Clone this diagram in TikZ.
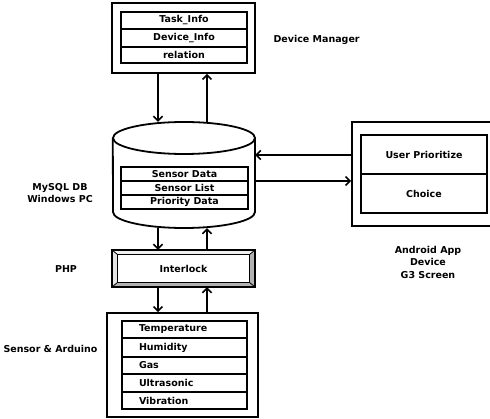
\documentclass[tikz,border=0pt]{standalone}
\usepackage{fontspec}
\setmainfont{DejaVu Sans}
\usetikzlibrary{arrows.meta,calc}
\begin{document}
\begin{tikzpicture}[x=1pt,y=-1pt,
  every node/.style={font=\bfseries\fontsize{9.5}{12.5}\selectfont},
  frame/.style={draw, line width=1.8pt, inner sep=0pt},
  cell/.style={draw, line width=1.5pt, inner sep=0pt, minimum width=126pt},
  sensor/.style={cell, minimum width=125pt, text width=91pt, inner xsep=17pt, align=left},
  arr/.style={line width=1.8pt, -{Straight Barb[length=4.5pt,width=9pt,line width=1.5pt]}},
  ln/.style={line width=1.8pt}]
\clip (0,0) rectangle (490,419);
\fill[white] (0,0) rectangle (490,419);

% columns of the vertical connectors, rows of the horizontal ones
\coordinate (xa) at (158,0);
\coordinate (xb) at (207,0);
\coordinate (ya) at (0,155);
\coordinate (yb) at (0,181);

% device manager
\node[frame, minimum width=143pt, minimum height=70pt] (dm) at (183.5,38) {};
\node[cell, minimum height=17pt] (task) at (184,20.5) {Task\_Info};
\node[cell, minimum height=18pt] (dev) at (184,38) {Device\_Info};
\node[cell, minimum height=16pt] (rel) at (184,55) {relation};
\node[anchor=west] (dml) at (270,40) {Device Manager};

% database cylinder
\node[minimum width=142pt, minimum height=106pt, inner sep=0pt] (db) at (184,175) {};
\draw[ln, fill=white] (184,138) ellipse [x radius=71, y radius=16];
\draw[ln] (db.west |- 0,138) -- (113,212) arc[start angle=180, end angle=0, x radius=71, y radius=16] -- (255,138);
\node[cell, minimum width=127pt, minimum height=14pt] (sdata) at (184.5,174) {Sensor Data};
\node[cell, minimum width=127pt, minimum height=14pt] (slist) at (184.5,188) {Sensor List};
\node[cell, minimum width=127pt, minimum height=14pt] (pdata) at (184.5,202) {Priority Data};
\node[align=center] (dbl) at (60,193) {MySQL DB\\Windows PC};

% android application
\node[frame, minimum width=150pt, minimum height=104pt] (app) at (427,174) {};
\node[cell, minimum height=39pt] (prio) at (424,154.5) {User Prioritize};
\node[cell, minimum height=39pt] (choice) at (424,193.5) {Choice};
\node[align=center] (appl) at (428,262) {Android App\\Device\\G3 Screen};

% interlock (bevelled button)
\node[minimum width=143pt, minimum height=37pt, inner sep=0pt] (il) at (183.5,268.5) {};
\fill[gray!60] (il.south west) -- ++(6,-5) -- ($(il.south east)+(-6,-5)$) -- (il.south east) -- cycle;
\fill[gray!60] (il.south east) -- ++(-6,-5) -- ($(il.north east)+(-6,5)$) -- (il.north east) -- cycle;
\fill[gray!12] (il.north west) -- ++(6,5) -- ($(il.north east)+(-6,5)$) -- (il.north east) -- cycle;
\fill[gray!20] (il.north west) -- ++(6,5) -- ($(il.south west)+(6,-5)$) -- (il.south west) -- cycle;
\draw[line width=1pt] ($(il.north west)+(6,5)$) rectangle ($(il.south east)+(-6,-5)$);
\draw[line width=0.8pt] (il.north west) -- ++(6,5) (il.north east) -- ++(-6,5)
  (il.south west) -- ++(6,-5) (il.south east) -- ++(-6,-5);
\draw[ln] (il.north west) rectangle (il.south east);
\node at (il.center) {Interlock};
\node (phpl) at (66,269) {PHP};

% sensors
\node[frame, minimum width=151pt, minimum height=104pt] (sa) at (182.5,365) {};
\node[sensor, minimum height=17pt] (temp) at (184.5,329.5) {Temperature};
\node[sensor, minimum height=19pt] (hum) at (184.5,347.5) {Humidity};
\node[sensor, minimum height=17pt] (gas) at (184.5,365.5) {Gas};
\node[sensor, minimum height=18pt] (ultra) at (184.5,383) {Ultrasonic};
\node[sensor, minimum height=17pt] (vib) at (184.5,400.5) {Vibration};
\node[anchor=west] (sal) at (0,349) {Sensor \& Arduino};

% connectors
\draw[arr] (dm.south -| xa) -- (db.north -| xa);
\draw[arr] (db.north -| xb) -- (dm.south -| xb);
\draw[arr] (db.south -| xa) -- (il.north -| xa);
\draw[arr] (il.north -| xb) -- (db.south -| xb);
\draw[arr] (il.south -| xa) -- (sa.north -| xa);
\draw[arr] (sa.north -| xb) -- (il.south -| xb);
\draw[arr] (app.west |- ya) -- (db.east |- ya);
\draw[arr] (db.east |- yb) -- (app.west |- yb);
\end{tikzpicture}
\end{document}
